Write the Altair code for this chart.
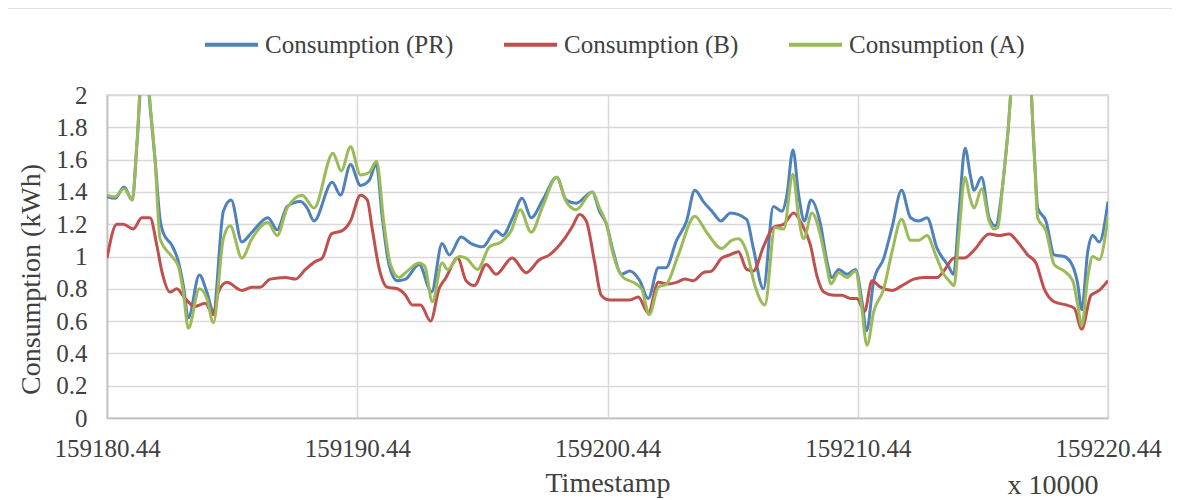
import altair as alt
import pandas as pd

BASE = 159180.44
SERIES = ["Consumption (PR)", "Consumption (B)", "Consumption (A)"]
COLORS = ["#4F81BD", "#C0504D", "#9BBB59"]
X_TICKS = [159180.44, 159190.44, 159200.44, 159210.44, 159220.44]
Y_TICKS = [0, 0.2, 0.4, 0.6, 0.8, 1.0, 1.2, 1.4, 1.6, 1.8, 2.0]

# offsets from BASE (x 10000 units) and consumption values
t_pr = [0, 0.32, 0.68, 1.01, 1.2, 1.47, 1.75, 1.92, 2.12, 2.25, 2.59, 2.85, 3.05, 3.25, 3.69, 3.99,
        4.25, 4.65, 4.96, 5.39, 5.79, 6.43, 6.8, 7.2, 7.73, 8.0, 8.27, 9.0, 9.33, 9.73, 10.13, 10.47,
        10.76, 11.0, 11.27, 11.6, 11.93, 12.47, 12.97, 13.39, 13.68, 14.15, 14.55, 15.01, 15.55, 15.81,
        16.21, 16.59, 16.95, 17.41, 17.97, 18.35, 18.75, 19.39, 19.68, 19.96, 20.23, 20.56, 20.89, 21.29,
        21.63, 22.03, 22.33, 22.76, 23.16, 23.49, 23.83, 24.23, 24.52, 24.92, 25.56, 25.83, 26.23, 26.63,
        26.97, 27.17, 27.41, 27.64, 27.87, 28.13, 28.51, 28.77, 28.97, 29.24, 29.57, 29.91, 30.17, 30.35,
        30.64, 31.04, 31.37, 31.75, 32.11, 32.44, 32.77, 33.17, 33.44, 33.59, 33.83, 34.05, 34.29, 34.49,
        34.65, 34.95, 35.25, 35.5, 35.79, 35.99, 36.3, 36.8, 37.05, 37.19, 37.52, 37.85, 38.25, 38.59,
        38.79, 38.95, 39.19, 39.39, 39.65, 40.0]
v_pr = [1.37, 1.36, 1.43, 1.35, 1.7, 2.3, 1.88, 1.6, 1.23, 1.145, 1.07, 0.97, 0.82, 0.62, 0.886, 0.78,
        0.66, 1.28, 1.35, 1.09, 1.15, 1.24, 1.165, 1.31, 1.34, 1.30, 1.22, 1.46, 1.38, 1.57, 1.44, 1.47,
        1.57, 1.24, 0.95, 0.85, 0.86, 0.95, 0.78, 1.08, 1.01, 1.12, 1.08, 1.06, 1.16, 1.13,
        1.24, 1.36, 1.24, 1.35, 1.49, 1.35, 1.33, 1.40, 1.28, 1.20, 1.03, 0.89, 0.91, 0.85,
        0.74, 0.93, 0.93, 1.10, 1.22, 1.41, 1.34, 1.27, 1.22, 1.27, 1.23, 1.05, 0.80, 1.31,
        1.28, 1.38, 1.66, 1.38, 1.22, 1.35, 1.20, 0.97, 0.87, 0.92, 0.89, 0.92, 0.72, 0.54,
        0.85, 0.99, 1.18, 1.41, 1.24, 1.22, 1.24, 1.05, 0.98, 0.95, 0.89, 1.28, 1.67, 1.51,
        1.41, 1.49, 1.24, 1.19, 1.44, 1.75, 2.3, 2.3, 1.65, 1.30, 1.22, 1.01, 1.0, 0.94,
        0.83, 0.67, 1.03, 1.13, 1.09, 1.34]

t_b = [0, 0.39, 0.65, 1.05, 1.39, 1.72, 1.99, 2.19, 2.52, 2.79, 3.12, 3.52, 3.92, 4.25, 4.45, 4.79,
       5.39, 5.79, 6.12, 6.52, 7.13, 7.53, 7.93, 8.33, 8.6, 8.97, 9.4, 9.73, 10.13, 10.4, 10.6, 10.87,
       11.2, 11.6, 11.93, 12.2, 12.53, 12.93, 13.27, 13.55, 14.01, 14.35, 14.68, 15.15, 15.55, 16.19,
       16.75, 17.28, 17.68, 18.28, 18.61, 18.88, 19.15, 19.48, 19.75, 20.08, 20.36, 20.89, 21.23, 21.63,
       22.03, 22.43, 22.76, 23.09, 23.43, 23.83, 24.16, 24.56, 24.89, 25.23, 25.56, 25.83, 26.23, 26.63,
       27.04, 27.44, 27.77, 28.11, 28.37, 28.64, 29.04, 29.37, 29.71, 29.97, 30.27, 30.57, 30.91, 31.37,
       31.77, 32.24, 32.64, 33.17, 33.44, 33.85, 34.25, 34.65, 35.25, 35.65, 36.05, 36.39, 36.79, 37.12,
       37.45, 37.85, 38.32, 38.65, 38.95, 39.32, 39.65, 40.0]
v_b = [0.99, 1.2, 1.2, 1.17, 1.24, 1.24, 1.07, 0.91, 0.78, 0.80, 0.74, 0.69, 0.71, 0.64, 0.78, 0.84,
       0.79, 0.81, 0.81, 0.86, 0.87, 0.86, 0.92, 0.97, 0.99, 1.14, 1.16, 1.22, 1.38, 1.35, 1.17, 0.93,
       0.81, 0.80, 0.76, 0.70, 0.70, 0.60, 0.80, 0.87, 0.99, 0.85, 0.82, 0.95, 0.89, 0.99,
       0.90, 0.98, 1.01, 1.11, 1.19, 1.26, 1.22, 0.97, 0.76, 0.73, 0.73, 0.73, 0.75, 0.65,
       0.84, 0.83, 0.84, 0.86, 0.85, 0.90, 0.91, 0.99, 1.01, 1.03, 0.92, 0.91, 1.06, 1.18,
       1.2, 1.27, 1.20, 1.07, 0.88, 0.78, 0.76, 0.76, 0.74, 0.74, 0.66, 0.85, 0.81, 0.79,
       0.82, 0.86, 0.87, 0.87, 0.91, 0.99, 0.99, 1.04, 1.14, 1.13, 1.14, 1.09, 1.01, 0.96,
       0.80, 0.72, 0.70, 0.68, 0.55, 0.76, 0.79, 0.85]

t_a = [0, 0.32, 0.68, 1.01, 1.2, 1.47, 1.75, 1.92, 2.12, 2.59, 2.85, 3.05, 3.25, 3.69, 3.99, 4.25,
       4.65, 4.92, 5.39, 5.79, 6.43, 6.8, 7.2, 7.8, 8.27, 9.03, 9.36, 9.73, 10.13, 10.47, 10.77, 11.07,
       11.33, 11.67, 11.93, 12.47, 12.7, 13.0, 13.39, 13.61, 14.08, 14.35, 14.81, 15.28, 15.75, 16.15,
       16.51, 16.95, 17.41, 17.97, 18.35, 18.75, 19.39, 19.68, 19.96, 20.23, 20.63, 21.03, 21.36, 21.67,
       22.03, 22.36, 22.83, 23.49, 23.96, 24.56, 24.96, 25.23, 25.56, 25.89, 26.29, 26.69, 27.04, 27.41,
       27.64, 27.84, 28.17, 28.51, 28.75, 28.93, 29.24, 29.57, 29.91, 30.13, 30.37, 30.64, 31.04, 31.37,
       31.75, 32.11, 32.44, 32.77, 33.11, 33.44, 33.65, 33.85, 34.05, 34.28, 34.49, 34.65, 34.95, 35.25,
       35.45, 35.6, 35.79, 35.99, 36.3, 36.8, 37.05, 37.19, 37.52, 37.85, 38.25, 38.59, 38.79, 38.95,
       39.19, 39.39, 39.65, 40.0]
v_a = [1.38, 1.37, 1.42, 1.35, 1.72, 2.35, 1.9, 1.6, 1.11, 1.0, 0.94, 0.78, 0.556, 0.80, 0.74, 0.59,
       1.11, 1.19, 0.99, 1.11, 1.21, 1.13, 1.30, 1.38, 1.30, 1.64, 1.53, 1.68, 1.505, 1.52, 1.59, 1.2,
       0.95, 0.87, 0.90, 0.96, 0.94, 0.72, 0.96, 0.92, 1.0, 0.99, 0.92, 1.06, 1.09, 1.16,
       1.29, 1.15, 1.31, 1.49, 1.34, 1.29, 1.40, 1.30, 1.20, 1.01, 0.87, 0.84, 0.80, 0.64,
       0.81, 0.83, 1.01, 1.25, 1.15, 1.05, 1.10, 1.11, 1.03, 0.82, 0.70, 1.18, 1.17, 1.51,
       1.24, 1.11, 1.27, 1.13, 0.95, 0.83, 0.90, 0.87, 0.91, 0.72, 0.45, 0.66, 0.80, 1.03,
       1.23, 1.10, 1.10, 1.13, 1.01, 0.89, 0.85, 0.82, 1.15, 1.49, 1.36, 1.30, 1.42, 1.22,
       1.17, 1.18, 1.44, 1.75, 2.3, 2.3, 1.65, 1.24, 1.16, 0.95, 0.91, 0.85, 0.70, 0.57,
       0.87, 1.0, 0.98, 1.25]

rows = []
for name, ts, vs in [(SERIES[0], t_pr, v_pr), (SERIES[1], t_b, v_b), (SERIES[2], t_a, v_a)]:
    for t, v in zip(ts, vs):
        rows.append({"series": name, "x": round(BASE + t, 4), "y": v})
df = pd.DataFrame(rows)

FONT = "Liberation Serif"
TEXT = "#404040"
GRID = "#D9D9D9"

color = alt.Color(
    "series:N",
    scale=alt.Scale(domain=SERIES, range=COLORS),
    legend=alt.Legend(
        title=None, orient="none", direction="horizontal", legendX=96, legendY=-79,
        symbolType="stroke", symbolSize=2809, symbolStrokeWidth=4, labelFont=FONT,
        labelFontSize=25, labelColor=TEXT, labelOffset=5, columnPadding=42, padding=0,
    ),
)
x_enc = alt.X(
    "x:Q",
    scale=alt.Scale(domain=[X_TICKS[0], X_TICKS[-1]], nice=False, zero=False),
    axis=alt.Axis(values=X_TICKS, labelExpr="format(datum.value, '.2f')", title="Timestamp",
                  labelPadding=18, titlePadding=8, labelFlush=False, labelOverlap=False),
)
y_enc = alt.Y(
    "y:Q",
    scale=alt.Scale(domain=[0, 2], nice=False),
    axis=alt.Axis(values=Y_TICKS, labelExpr="format(datum.value, '.1~f')", title="Consumption (kWh)",
                  labelPadding=20, titlePadding=10, titleY=184),
)

layers = []
frame = alt.Chart(pd.DataFrame({"k": [0]})).mark_rect(
    fillOpacity=0, stroke=GRID, strokeWidth=1.5
).encode(x=alt.value(-102), y=alt.value(-87), x2=alt.value(1200), y2=alt.value(600))
layers.append(frame)
for s in SERIES:
    layers.append(
        alt.Chart(df).transform_filter(alt.datum.series == s)
        .mark_line(interpolate="monotone", strokeWidth=3, clip=True)
        .encode(x=x_enc, y=y_enc, color=color)
    )
note = alt.Chart(pd.DataFrame({"label": ["x 10000"]})).mark_text(
    font=FONT, fontSize=28, color=TEXT, align="center", baseline="middle"
).encode(x=alt.value(946), y=alt.value(391), text="label:N")
layers.append(note)

chart = (
    alt.layer(*layers)
    .properties(width=1001, height=323, autosize=alt.AutoSizeParams(type="none"),
                padding={"left": 99, "top": 87, "right": 64, "bottom": 100})
    .configure_view(stroke=GRID, strokeWidth=1.5)
    .configure_axis(grid=True, gridColor=GRID, gridWidth=1.5, ticks=False,
                    domainColor="#BFBFBF", domainWidth=1.5,
                    labelFont=FONT, labelFontSize=25, labelColor=TEXT,
                    titleFont=FONT, titleFontSize=28, titleFontWeight="normal", titleColor=TEXT)
    .configure_legend(labelLimit=0)
)
chart.save("out.html", embed_options={"renderer": "svg", "actions": False})
